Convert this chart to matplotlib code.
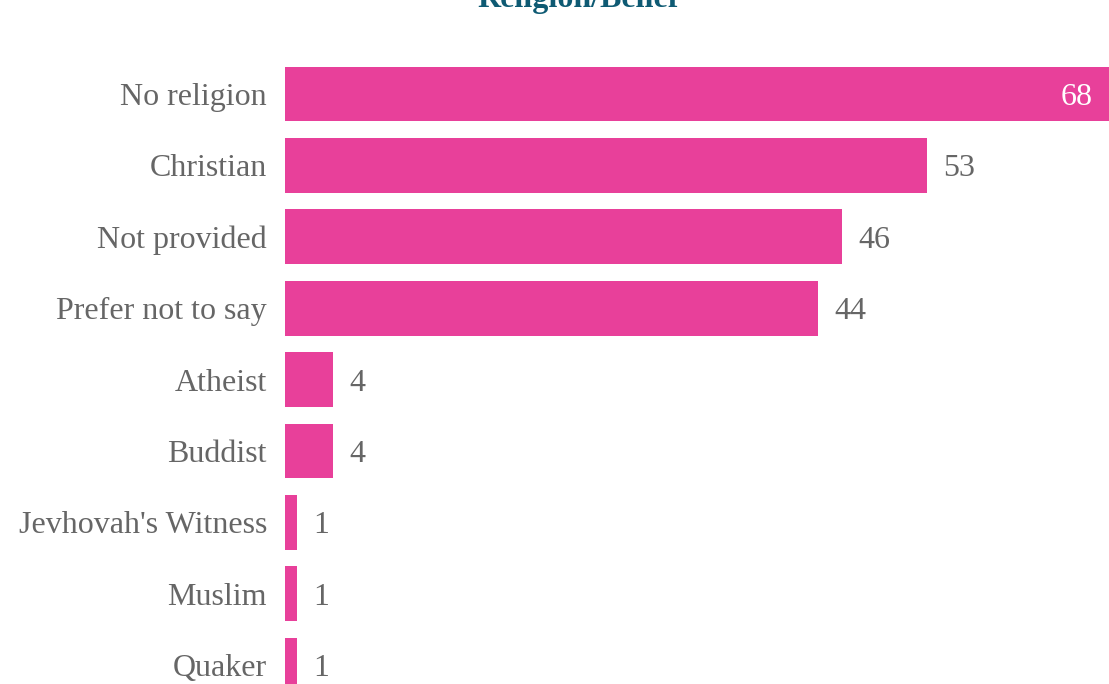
import matplotlib
matplotlib.use("Agg")
import matplotlib.pyplot as plt

categories = ["No religion", "Christian", "Not provided", "Prefer not to say",
              "Atheist", "Buddist", "Jevhovah's Witness", "Muslim", "Quaker"]
counts = [68, 53, 46, 44, 4, 4, 1, 1, 1]
title = "Religion/Belief"

W, H = 1109, 684
fig = plt.figure(figsize=(W / 100, H / 100), dpi=100)

serif = ["Liberation Serif", "DejaVu Serif"]
bar_color = "#E8409A"
text_grey = "#666666"
fs = 23

# axes: left edge at 285px, top at 30px, extends to figure bottom
ax = fig.add_axes([285 / W, 0, 1 - 285 / W, (H - 30) / H])
pitch = 71.4
ypos = list(range(len(categories)))
ax.barh(ypos, counts, height=0.77, color=bar_color, linewidth=0)
ax.set_xlim(0, max(counts))
ax.set_ylim((H - 94) / pitch, -(94 - 30) / pitch)
ax.axis("off")

# baseline of every label sits a little below the bar centre
drop = -11

# category labels to the left of the bars
for y, cat in zip(ypos, categories):
    ax.annotate(cat, xy=(0, y), xytext=(-18, drop), textcoords="offset pixels",
                ha="right", va="baseline", fontsize=fs, family=serif,
                color=text_grey, annotation_clip=False)

# value labels: inside the bar when it fills the axis, otherwise outside
xmax = max(counts)
for y, v in zip(ypos, counts):
    if v >= xmax * 0.95:
        ax.annotate(str(v), xy=(v, y), xytext=(-16, drop), textcoords="offset pixels",
                    ha="right", va="baseline", fontsize=fs, family=serif,
                    color="white", annotation_clip=False)
    else:
        ax.annotate(str(v), xy=(v, y), xytext=(16, drop), textcoords="offset pixels",
                    ha="left", va="baseline", fontsize=fs, family=serif,
                    color=text_grey, annotation_clip=False)

fig.text(578 / W, 1 - 7 / H, title, ha="center", va="baseline",
         fontsize=fs, fontweight="bold", family=serif, color="#0E5A73")

fig.savefig("out.png", dpi=100)
